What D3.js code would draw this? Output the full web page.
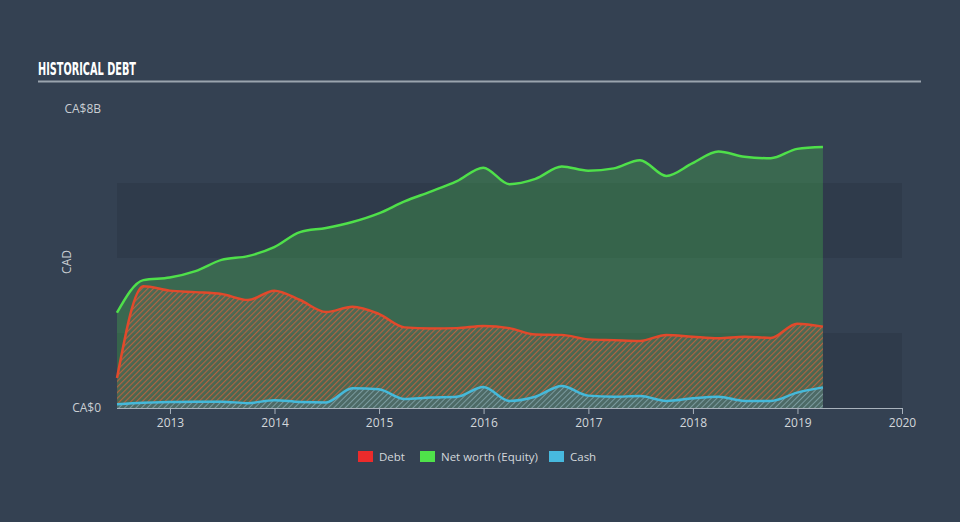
<!DOCTYPE html>
<html>
<head>
<meta charset="utf-8">
<script src="https://cdn.jsdelivr.net/npm/d3@7/dist/d3.min.js"></script>
<style>
  html, body { margin: 0; padding: 0; background: #344152; }
  svg { display: block; }
</style>
</head>
<body>
<svg id="chart" width="960" height="522"></svg>
<script>
// ---- data (CA$ billions, quarterly) ----
const dates = [
  "2012-06-30","2012-09-30","2012-12-31","2013-03-31","2013-06-30","2013-09-30","2013-12-31",
  "2014-03-31","2014-06-30","2014-09-30","2014-12-31","2015-03-31","2015-06-30","2015-09-30",
  "2015-12-31","2016-03-31","2016-06-30","2016-09-30","2016-12-31","2017-03-31","2017-06-30",
  "2017-09-30","2017-12-31","2018-03-31","2018-06-30","2018-09-30","2018-12-31","2019-03-31"
];
const netWorth = [2.54,3.41,3.48,3.65,3.95,4.05,4.29,4.69,4.80,4.96,5.19,5.51,5.77,6.05,
                  6.41,5.97,6.11,6.44,6.33,6.39,6.61,6.19,6.53,6.84,6.70,6.66,6.91,6.96];
const debt = [0.80,3.25,3.13,3.09,3.04,2.88,3.13,2.88,2.56,2.70,2.51,2.15,2.12,2.13,
              2.19,2.13,1.96,1.95,1.83,1.81,1.79,1.95,1.90,1.86,1.90,1.87,2.25,2.17];
const cash = [0.10,0.14,0.16,0.17,0.17,0.13,0.21,0.16,0.15,0.53,0.50,0.24,0.28,0.30,
              0.56,0.19,0.30,0.59,0.33,0.30,0.32,0.19,0.26,0.30,0.19,0.19,0.41,0.55];
const xTickYears = [2013,2014,2015,2016,2017,2018,2019,2020];
const yTickLabels = ["CA$0","CA$8B"];
const legendItems = ["Debt","Net worth (Equity)","Cash"];

const parse = d3.timeParse("%Y-%m-%d");
const rows = dates.map((d,i) => ({date: parse(d), nw: netWorth[i], debt: debt[i], cash: cash[i]}));

const svg = d3.select("#chart");
const W = 960, H = 522;
const pL = 117, pR = 902, pT = 108, pB = 408;

const x = d3.scaleTime()
  .domain([parse("2012-06-30"), new Date(2020,0,1)])
  .range([pL, pR]);
const y = d3.scaleLinear().domain([0, 8]).range([pB, pT]);

// background
svg.append("rect").attr("width", W).attr("height", H).attr("fill", "#344152");

// bands
[[4,6],[0,2]].forEach(([a,b]) => {
  svg.append("rect")
    .attr("x", pL).attr("width", pR - pL)
    .attr("y", y(b)).attr("height", y(a) - y(b))
    .attr("fill", "#2d3949").attr("opacity", 0.7);
});

// title
svg.append("text").attr("x", 38).attr("y", 75)
  .attr("fill", "#ffffff")
  .attr("textLength", 98).attr("lengthAdjust", "spacingAndGlyphs")
  .style("font-family", "'DejaVu Sans','Liberation Sans',sans-serif")
  .style("font-weight", "bold").style("font-size", "17px")
  .text("HISTORICAL DEBT");
svg.append("line").attr("x1", 38).attr("x2", 921).attr("y1", 81.5).attr("y2", 81.5)
  .attr("stroke", "#9aa4ae").attr("stroke-width", 2);

// patterns
const defs = svg.append("defs");
const p1 = defs.append("pattern").attr("id", "hatchDebt").attr("patternUnits", "userSpaceOnUse")
  .attr("width", 4).attr("height", 4).attr("patternTransform", "rotate(45)");
p1.append("rect").attr("width", 4).attr("height", 4).attr("fill", "#5a6a55").attr("opacity", 0.55);
p1.append("line").attr("x1", 0).attr("y1", 0).attr("x2", 0).attr("y2", 4)
  .attr("stroke", "#d9603a").attr("stroke-width", 2.2).attr("opacity", 0.75);
const p2 = defs.append("pattern").attr("id", "hatchCash").attr("patternUnits", "userSpaceOnUse")
  .attr("width", 4).attr("height", 4).attr("patternTransform", "rotate(45)");
p2.append("rect").attr("width", 4).attr("height", 4).attr("fill", "#4d6a66");
p2.append("line").attr("x1", 0).attr("y1", 0).attr("x2", 0).attr("y2", 4)
  .attr("stroke", "#7a9a9e").attr("stroke-width", 2);

const curve = d3.curveMonotoneX;
const area = key => d3.area().x(d => x(d.date)).y0(y(0)).y1(d => y(d[key])).curve(curve);
const line = key => d3.line().x(d => x(d.date)).y(d => y(d[key])).curve(curve);

// net worth area
svg.append("path").datum(rows).attr("d", area("nw"))
  .attr("fill", "#4de04a").attr("fill-opacity", 0.25);
// debt area
svg.append("path").datum(rows).attr("d", area("debt")).attr("fill", "url(#hatchDebt)");
// cash area
svg.append("path").datum(rows).attr("d", area("cash")).attr("fill", "url(#hatchCash)");

// lines
svg.append("path").datum(rows).attr("d", line("nw"))
  .attr("fill", "none").attr("stroke", "#4fe04a").attr("stroke-width", 2.5);
svg.append("path").datum(rows).attr("d", line("debt"))
  .attr("fill", "none").attr("stroke", "#e2492b").attr("stroke-width", 2.5);
svg.append("path").datum(rows).attr("d", line("cash"))
  .attr("fill", "none").attr("stroke", "#45b9da").attr("stroke-width", 2.5);

// x axis
const xAxis = d3.axisBottom(x)
  .tickValues(xTickYears.map(yr => new Date(yr,0,1)))
  .tickFormat(d3.timeFormat("%Y"))
  .tickSize(6).tickSizeOuter(0);
const gx = svg.append("g").attr("transform", `translate(0,${pB})`).call(xAxis);
gx.select(".domain").attr("stroke", "#a9b2bc").attr("d", `M${pL},0.5H${pR}`);
gx.selectAll(".tick line").attr("stroke", "#a9b2bc");
gx.selectAll(".tick text").attr("fill", "#d3d7db").attr("dy", "0.8em")
  .style("font-family", "'Open Sans',sans-serif").style("font-size", "12px");

// y labels
const yFont = "'Open Sans',sans-serif";
svg.append("text").attr("x", 101).attr("y", y(0)).attr("dy", "0.35em")
  .attr("text-anchor", "end").attr("fill", "#c9ced3")
  .style("font-family", yFont).style("font-size", "12px").text(yTickLabels[0]);
svg.append("text").attr("x", 101).attr("y", y(8) + 1).attr("dy", "0.35em")
  .attr("text-anchor", "end").attr("fill", "#c9ced3")
  .style("font-family", yFont).style("font-size", "12px").text(yTickLabels[1]);
svg.append("text").attr("transform", `translate(71,${262}) rotate(-90)`)
  .attr("text-anchor", "middle").attr("fill", "#c9ced3")
  .style("font-family", yFont).style("font-size", "12px").text("CAD");

// legend
const legendColors = ["#ec2b2b", "#4fe24a", "#47b9de"];
const legendX = [358, 420, 549];
legendItems.forEach((t, i) => {
  svg.append("rect").attr("x", legendX[i]).attr("y", 451).attr("width", 15).attr("height", 11)
    .attr("fill", legendColors[i]);
  svg.append("text").attr("x", legendX[i] + 21).attr("y", 456.5).attr("dy", "0.35em")
    .attr("fill", "#d3d7db")
    .style("font-family", yFont).style("font-size", "11.5px").text(t);
});
</script>
</body>
</html>
